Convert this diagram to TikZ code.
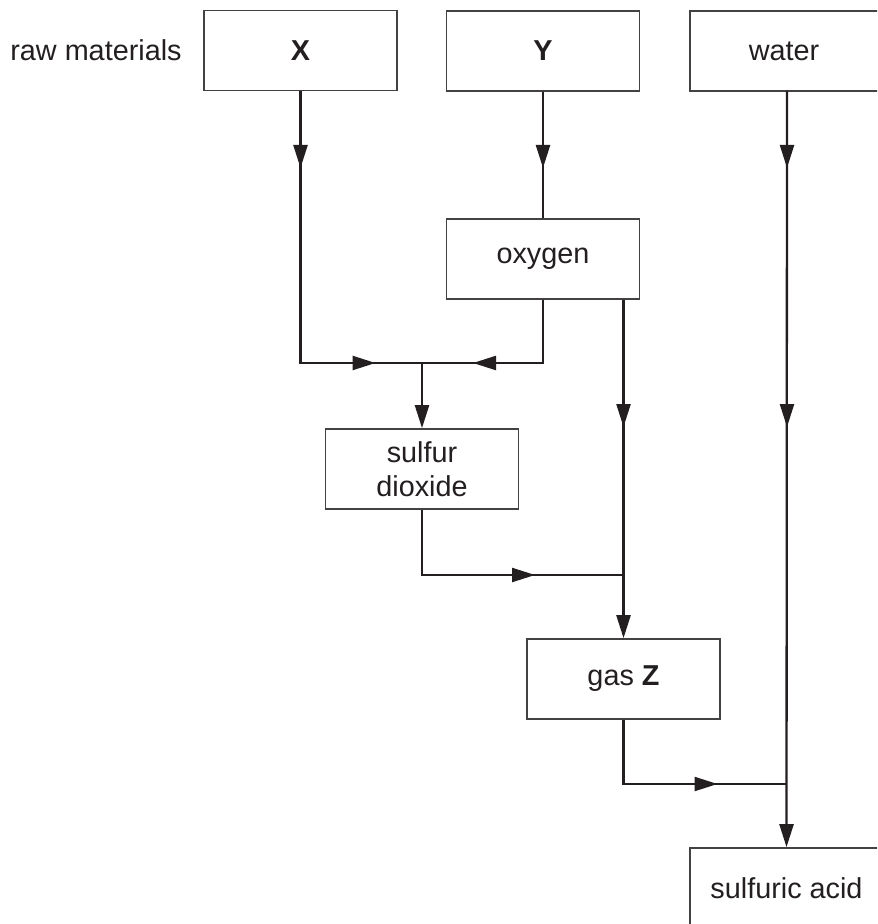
\documentclass[tikz,border=0pt]{standalone}
\usepackage{fontspec}
\setmainfont{Liberation Sans}
\usetikzlibrary{arrows.meta,calc}
\definecolor{ink}{HTML}{231F20}
\begin{document}
\begin{tikzpicture}[x=0.5pt,y=-0.5pt,
  box/.style={draw=ink!85, line width=0.85pt, minimum width=96.5pt, minimum height=40pt,
    inner sep=0pt, align=center, font=\fontsize{14.4}{17}\selectfont, text=ink},
  openbox/.style={box, draw=none},
  boxline/.style={draw=ink!85, line width=0.85pt},
  flow/.style={draw=ink, line width=1.15pt},
  tip/.style={flow, -{Triangle[length=11.5pt,width=7pt]}},
  lbl/.style={font=\fontsize{14.4}{17}\selectfont, text=ink}]
\useasboundingbox (0,0) rectangle (877,924);
\clip (0,0) rectangle (877,924);
\fill[white] (0,0) rectangle (877,924);

\node[lbl] (raw) at (96,50) {raw materials};
\node[box] (X) at (300.5,50.5) {\textbf{X}};
\node[box] (Y) at (543,51) {\textbf{Y}};
\node[openbox] (water) at (784,51) {water};
\node[box] (oxy) at (543,259) {oxygen};
\node[box] (so2) at (422,469) {sulfur\\dioxide};
\node[box] (gasz) at (623.5,679) {gas \textbf{Z}};
\node[openbox] (acid) at (786.5,888) {sulfuric acid};

% boxes running off the right edge
\draw[boxline] (900,11) -- (690,11) -- (690,91) -- (900,91);
\draw[boxline] (900,848) -- (690,848) -- (690,940);

\coordinate (t1) at (0,168);
\coordinate (t2) at (0,427);
\coordinate (r1) at (0,363);
\coordinate (r2) at (0,575);
\coordinate (r3) at (0,784);
\coordinate (wS) at (787,91);
\coordinate (jL) at (X.south |- r1);
\coordinate (jR) at (oxy.south |- r1);
\coordinate (jM) at (so2.north |- r1);
\coordinate (oR) at (oxy.south -| gasz.north);
\coordinate (sL) at (so2.south |- r2);
\coordinate (sR) at (gasz.north |- r2);
\coordinate (gL) at (gasz.south |- r3);
\coordinate (gR) at (acid.north |- r3);

% X and oxygen merging
\draw[flow] (X.south) -- (jL) -- (jR) -- (oxy.south);
\draw[tip] (X.south) -- (X.south |- t1);
\draw[tip] (jL) -- ($(jL)+(75,0)$);
\draw[tip] (jR) -- ($(jR)+(-70,0)$);
\draw[tip] (jM) -- (so2.north);

% Y to oxygen
\draw[flow] (Y.south) -- (oxy.north);
\draw[tip] (Y.south) -- (Y.south |- t1);

% oxygen right branch to gas Z
\draw[tip] (oR) -- (gasz.north);
\draw[tip] (oR) -- (oR |- t2);

% sulfur dioxide to gas Z line
\draw[flow] (so2.south) -- (sL) -- (sR);
\draw[tip] (sL) -- ($(sL)+(113,0)$);

% water to sulfuric acid
\draw[tip] (wS) -- (acid.north);
\draw[tip] (wS) -- (wS |- t1);
\draw[tip] (wS) -- (wS |- t2);

% gas Z to water line
\draw[flow] (gasz.south) -- (gL) -- (gR);
\draw[tip] (gL) -- ($(gL)+(94,0)$);
\end{tikzpicture}
\end{document}
